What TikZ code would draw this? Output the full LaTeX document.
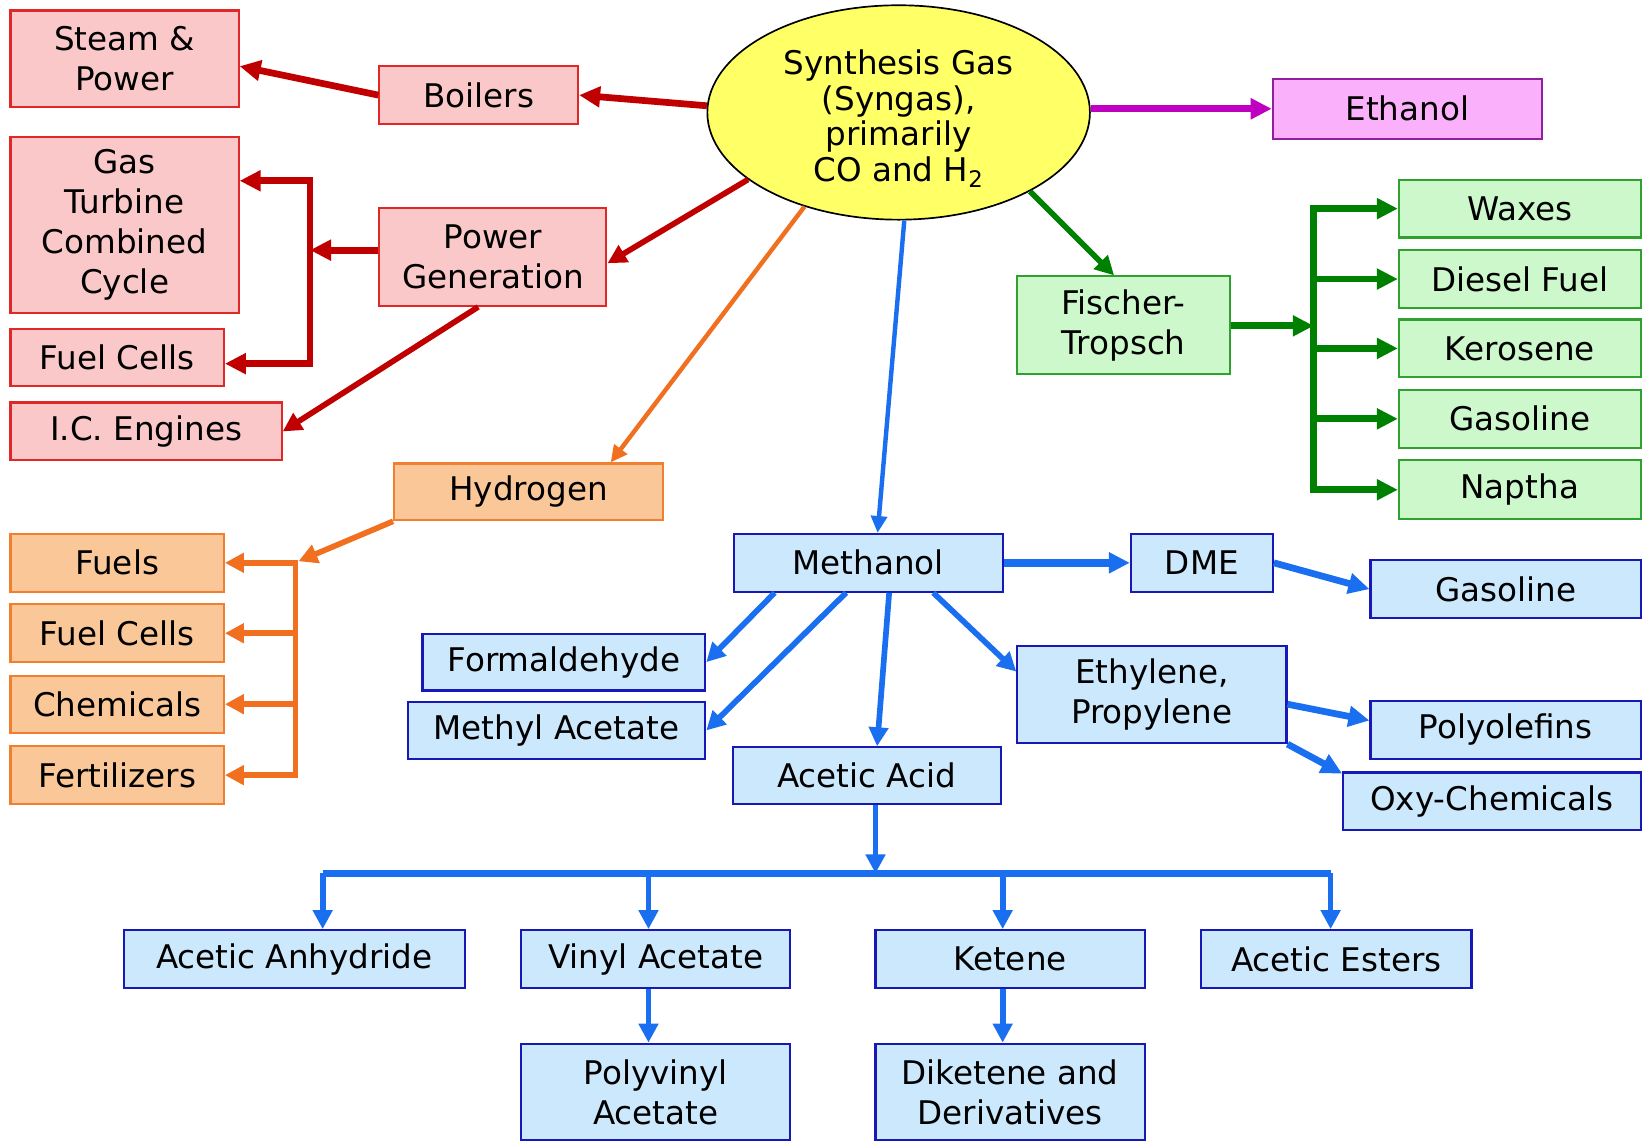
\documentclass[tikz,border=0pt]{standalone}
\usepackage{fontspec}
\setmainfont{DejaVu Sans}
\usetikzlibrary{arrows.meta,shapes.geometric,calc}
\definecolor{rline}{HTML}{C00000}
\definecolor{rfill}{HTML}{FAC8C8}
\definecolor{rdraw}{HTML}{E02828}
\definecolor{oline}{HTML}{F07020}
\definecolor{ofill}{HTML}{FAC898}
\definecolor{odraw}{HTML}{F08030}
\definecolor{yfill}{HTML}{FFFF66}
\definecolor{mline}{HTML}{C000C0}
\definecolor{mfill}{HTML}{FAB0FA}
\definecolor{mdraw}{HTML}{9020A0}
\definecolor{gline}{HTML}{008000}
\definecolor{gfill}{HTML}{CCF8CC}
\definecolor{gdraw}{HTML}{30A030}
\definecolor{bline}{HTML}{1A6EF0}
\definecolor{bfill}{HTML}{CCE8FC}
\definecolor{bdraw}{HTML}{1818B8}
\newcommand\bx[7]{\node[#6,minimum width={(#4-#2)*0.5pt},minimum height={(#5-#3)*0.5pt}] (#1) at ({(#2+#4)/2},{(#3+#5)/2}) {#7};}
\begin{document}
\begin{tikzpicture}[x=0.5pt,y=-0.5pt,
  font=\fontsize{15.5}{19}\selectfont,
  bxs/.style={draw,line width=1pt,inner sep=0pt,align=center},
  rbox/.style={bxs,fill=rfill,draw=rdraw},
  obox/.style={bxs,fill=ofill,draw=odraw},
  mbox/.style={bxs,fill=mfill,draw=mdraw},
  gbox/.style={bxs,fill=gfill,draw=gdraw},
  bbox/.style={bxs,fill=bfill,draw=bdraw},
  big/.style={-{Triangle[length=10pt,width=9.5pt]},line width=3.2pt},
  mid/.style={-{Triangle[length=9pt,width=9pt]},line width=2.7pt},
  small/.style={-{Triangle[length=8pt,width=7.5pt]},line width=2.1pt},
  bigb/.style={{Triangle[length=10pt,width=9.5pt]}-{Triangle[length=10pt,width=9.5pt]},line width=3.2pt},
  midb/.style={{Triangle[length=9pt,width=9pt]}-{Triangle[length=9pt,width=9pt]},line width=2.7pt},
]
\fill[white] (0,0) rectangle (1568,1087);
\useasboundingbox (0,0) rectangle (1568,1087);

% central ellipse
\node[ellipse,draw=black,line width=0.8pt,fill=yfill,minimum width=182pt,minimum height=102pt,inner sep=0pt] (syn) at (855,107) {};
\node[align=center,inner sep=0pt,font=\fontsize{15.5}{17}\selectfont] (syntxt) at (855,113) {Synthesis Gas\\(Syngas),\\primarily\\CO and H\textsubscript{2}};

% red
\bx{steam}{10}{10}{227}{102}{rbox}{Steam \&\\Power}
\bx{boil}{361}{63}{550}{118}{rbox}{Boilers}
\bx{gt}{10}{130}{227}{298}{rbox}{Gas\\Turbine\\Combined\\Cycle}
\bx{pg}{361}{198}{577}{291}{rbox}{Power\\Generation}
\bx{fca}{10}{313}{213}{367}{rbox}{Fuel Cells}
\bx{ice}{10}{383}{268}{438}{rbox}{I.C. Engines}

% orange
\bx{hyd}{375}{441}{631}{495}{obox}{Hydrogen}
\bx{fuels}{10}{508}{213}{563}{obox}{Fuels}
\bx{fcb}{10}{575}{213}{630}{obox}{Fuel Cells}
\bx{chem}{10}{643}{213}{697}{obox}{Chemicals}
\bx{fert}{10}{710}{213}{765}{obox}{Fertilizers}

% magenta
\bx{etoh}{1211}{75}{1467}{132}{mbox}{Ethanol}

% green
\bx{ft}{968}{263}{1170}{356}{gbox}{Fischer-\\Tropsch}
\bx{wax}{1331}{171}{1561}{226}{gbox}{Waxes}
\bx{dies}{1331}{238}{1561}{293}{gbox}{Diesel Fuel}
\bx{kero}{1331}{304}{1561}{359}{gbox}{Kerosene}
\bx{gasg}{1331}{371}{1561}{426}{gbox}{Gasoline}
\bx{nap}{1331}{438}{1561}{494}{gbox}{Naptha}

% blue
\bx{meth}{698}{508}{954}{563}{bbox}{Methanol}
\bx{dme}{1076}{508}{1211}{563}{bbox}{DME}
\bx{gasb}{1304}{533}{1561}{588}{bbox}{Gasoline}
\bx{form}{402}{603}{671}{657}{bbox}{Formaldehyde}
\bx{mac}{388}{668}{671}{722}{bbox}{Methyl Acetate}
\bx{aca}{697}{711}{952}{765}{bbox}{Acetic Acid}
\bx{ethy}{968}{615}{1224}{707}{bbox}{Ethylene,\\Propylene}
\bx{poly}{1304}{667}{1561}{722}{bbox}{Polyolefins}
\bx{oxy}{1278}{735}{1561}{790}{bbox}{Oxy-Chemicals}
\bx{aan}{118}{885}{442}{940}{bbox}{Acetic Anhydride}
\bx{vac}{496}{885}{752}{940}{bbox}{Vinyl Acetate}
\bx{ket}{833}{885}{1089}{940}{bbox}{Ketene}
\bx{aes}{1143}{885}{1400}{940}{bbox}{Acetic Esters}
\bx{pva}{496}{993}{752}{1085}{bbox}{Polyvinyl\\Acetate}
\bx{dik}{833}{993}{1089}{1085}{bbox}{Diketene and\\Derivatives}

% junction coordinates
\coordinate (rt) at (295,172);
\coordinate (rj) at (295,238);
\coordinate (rb) at (295,346);
\coordinate (ot) at (281,537);
\coordinate (gtk) at (1250,310);
\coordinate (bus) at (833,831);
\coordinate (d1) at (307,831);
\coordinate (d2) at (617,831);
\coordinate (d3) at (954,831);
\coordinate (d4) at (1266,831);

% red connectors
\draw[big,rline] (syn.178) -- (boil.east);
\draw[big,rline] (boil.west) -- ($(steam.east)+(0,7)$);
\draw[mid,rline] (syn.204) -- ($(pg.east)+(0,6)$);
\draw[big,rline] (pg.west |- rj) -- (rj);
\draw[bigb,rline] (gt.east |- rt) -- (rt) -- (rb) -- (fca.east |- rb);
\draw[mid,rline] ($(pg.south west)+(95,0)$) -- (ice.east);

% orange connectors
\draw[small,oline] (syn.225) -- ($(hyd.north east)+(-51,0)$);
\draw[mid,oline] (hyd.south west) -- ($(ot)+(3,-3)$);
\draw[midb,oline] (fuels.east) -- (fuels.east -| ot) -- (fert.east -| ot) -- (fert.east);
\draw[mid,oline] (fcb.east -| ot) -- (fcb.east);
\draw[mid,oline] (chem.east -| ot) -- (chem.east);

% magenta
\draw[big,mline] (syn.east |- etoh.west) -- (etoh.west);

% green
\draw[mid,gline] (syn.329) -- ($(ft.north)+(-9,0)$);
\draw[big,gline] (ft.east |- gtk) -- (gtk);
\draw[bigb,gline] (wax.west) -- (wax.west -| gtk) -- (nap.west -| gtk) -- (nap.west);
\draw[big,gline] (dies.west -| gtk) -- (dies.west);
\draw[big,gline] (kero.west -| gtk) -- (kero.west);
\draw[big,gline] (gasg.west -| gtk) -- (gasg.west);

% blue
\draw[small,bline] (syn.273) -- ($(meth.north)+(9,0)$);
\draw[big,bline,line width=3.6pt] (meth.east) -- (dme.west);
\draw[big,bline] (dme.east) -- (gasb.west);
\draw[mid,bline] ($(meth.south west)+(40,0)$) -- (form.east);
\draw[mid,bline] ($(meth.south west)+(108,0)$) -- (mac.east);
\draw[mid,bline] ($(meth.south west)+(149,0)$) -- ($(aca.north)+(10,0)$);
\draw[mid,bline] ($(meth.south west)+(191,0)$) -- ($(ethy.north west)+(0,25)$);
\draw[big,bline] ($(ethy.east)+(0,9)$) -- ($(poly.west)+(0,-9)$);
\draw[big,bline] (ethy.south east) -- ($(oxy.north west)+(0,2)$);
\draw[mid,bline] (aca.south -| bus) -- (bus);
\draw[line width=3.6pt,bline] (d1) -- (d4);
\draw[mid,bline] (d1) -- (aan.north -| d1);
\draw[mid,bline] (d2) -- (vac.north -| d2);
\draw[mid,bline] (d3) -- (ket.north -| d3);
\draw[mid,bline] (d4) -- (aes.north -| d4);
\draw[mid,bline] (vac.south -| d2) -- (pva.north -| d2);
\draw[mid,bline] (ket.south -| d3) -- (dik.north -| d3);
\end{tikzpicture}
\end{document}
